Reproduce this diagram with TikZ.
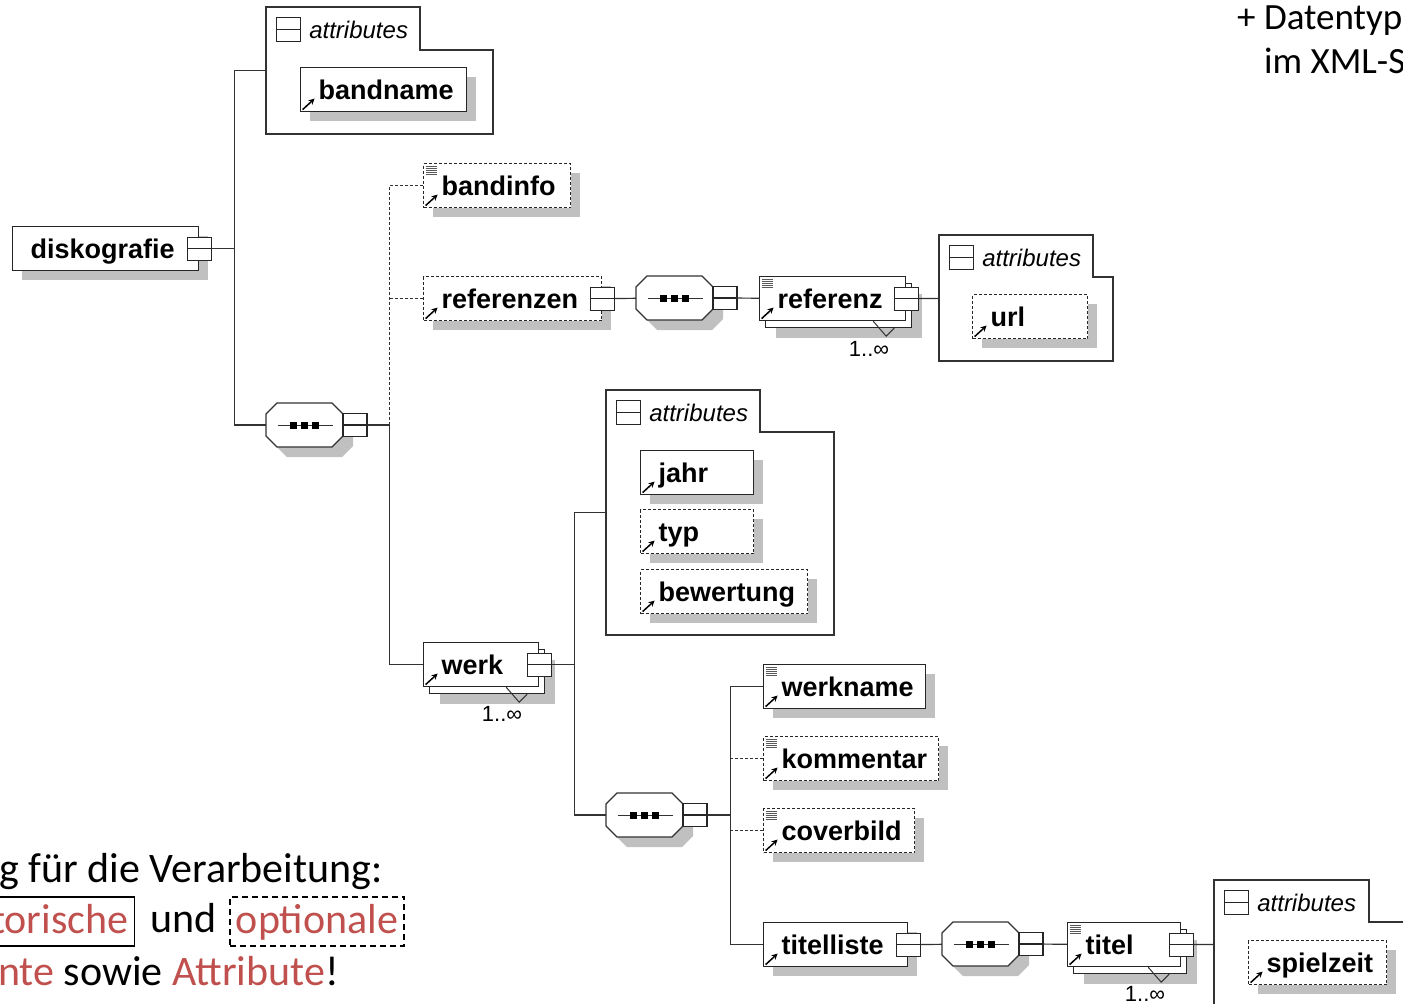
\documentclass[tikz,border=0pt]{standalone}
\usepackage{fontspec}
\setmainfont{Liberation Sans}
\newfontfamily\calibri{Carlito}
\usetikzlibrary{positioning, shadows, arrows.meta}

\definecolor{notered}{RGB}{192,80,77}
\definecolor{shadegray}{RGB}{192,192,192}
\definecolor{linegray}{RGB}{50,50,50}

\newcommand{\elemfont}{\fontsize{27}{32}\selectfont\bfseries}
\newcommand{\attrfont}{\fontsize{24}{28}\selectfont\itshape}
\newcommand{\cardfont}{\fontsize{22}{26}\selectfont}
\newcommand{\notefont}{\calibri\fontsize{42}{52}\selectfont}
\newcommand{\headfont}{\calibri\fontsize{37}{46}\selectfont}

% small icons inside the element boxes
\newcommand{\refarrow}{\draw[solid, black, line width=1.5pt, -{Stealth[length=6pt, width=6pt]}]
  ([shift={(2pt,2pt)}]path picture bounding box.south west) -- ++(12pt,11pt);}
\newcommand{\docicon}{\foreach \dy in {3pt,5pt,7pt,9pt,11pt}
  \draw[solid, black!65, line width=1pt] ([shift={(2pt,-\dy)}]path picture bounding box.north west) -- ++(11pt,0pt);}

\tikzset{
  outline/.style={draw=linegray, line width=1.2pt},
  conn/.style={draw=linegray, line width=1.2pt},
  optconn/.style={conn, dash pattern=on 3pt off 2pt},
  opt/.style={dash pattern=on 3pt off 2pt},
  elem/.style={draw=black!85, line width=1.2pt, fill=white, anchor=north west,
    minimum height=44pt, text width=#1pt, inner xsep=18pt, inner ysep=0pt,
    text height=20pt, text depth=0pt, align=left, font=\elemfont,
    path picture={\refarrow}},
  docelem/.style={elem=#1, path picture={\docicon\refarrow}},
  rootelem/.style={elem=#1, path picture={}},
  elemshadow/.style={drop shadow={shadow xshift=9pt, shadow yshift=-9pt, opacity=1, fill=shadegray}},
  multishadow/.style={drop shadow={shadow xshift=16pt, shadow yshift=-17pt, opacity=1, fill=shadegray},
    copy shadow={shadow xshift=6pt, shadow yshift=-7pt, opacity=1, fill=white, draw=black!85}},
  xbox/.style={draw=black!85, line width=1.1pt, fill=white, minimum width=24pt, minimum height=23pt, inner sep=0pt,
    path picture={\draw[solid, black!85, line width=1.1pt] (path picture bounding box.west) -- (path picture bounding box.east);}},
  minusbox/.style={xbox, minimum height=24pt, anchor=north west},
  attrgroup/.style={anchor=north west, inner sep=0pt, outer sep=0pt},
  attrtext/.style={font=\attrfont, inner sep=0pt},
  card/.style={font=\cardfont, inner sep=0pt},
  note/.style={font=\notefont, inner sep=0pt},
  notebox/.style={draw, line width=1.5pt, inner xsep=6pt, inner ysep=5.5pt, text height=31pt, text depth=7pt},
  pics/seqbox/.style={code={
    \fill[shadegray, shift={(10,10)}] (-27.5,-22) -- (27.5,-22) -- (38.5,-11) -- (38.5,11)
      -- (27.5,22) -- (-27.5,22) -- (-38.5,11) -- (-38.5,-11) -- cycle;
    \draw[outline, fill=white] (-27.5,-22) -- (27.5,-22) -- (38.5,-11) -- (38.5,11)
      -- (27.5,22) -- (-27.5,22) -- (-38.5,11) -- (-38.5,-11) -- cycle;
    \draw[outline, line width=1pt] (-27,0) -- (28,0);
    \foreach \dx in {-11,0,11} \fill (\dx-3.5,-3.5) rectangle ++(7,7);
    \node[inner sep=0pt, minimum width=77pt, minimum height=44pt] (-box) at (0,0) {};
    \node[xbox] (-x) at (50.5,0) {};
  }}
}

\begin{document}
\begin{tikzpicture}[x=1pt, y=-1pt]
  \useasboundingbox (0,0) rectangle (1403,1004);
  \clip (0,0) rectangle (1403,1004);

  % root element
  \node[rootelem=150, elemshadow] (disko) at (12,226) {diskografie};
  \node[xbox] (disko-x) at (disko.east) {};
  \coordinate[right=23pt of disko-x] (jA);

  \node[attrgroup, minimum width=227pt, minimum height=127pt] (attrA) at (266,7) {};
  \draw[outline] (attrA.south west) |- ([xshift=154pt]attrA.north west) |- ([yshift=-43pt]attrA.north east) -- (attrA.south east) -- cycle;
  \node[minusbox] (attrA-m) at ([shift={(10pt,-10pt)}]attrA.north west) {};
  \node[attrtext, right=8pt of attrA-m] (attrA-t) {attributes};
  \node[elem=130, elemshadow] (bandname) at (300,67) {bandname};

  % main sequence
  \pic (seqB) at (304.5,425) {seqbox};
  \coordinate[right=22pt of seqB-x] (jB);
  \node[docelem=111, elemshadow, opt] (bandinfo) at (423,163) {bandinfo};
  \node[elem=142, elemshadow, opt] (referenzen) at (423,276) {referenzen};
  \node[xbox] (referenzen-x) at (referenzen.east) {};
  \node[elem=79, multishadow] (werk) at (423,642) {werk};
  \node[xbox] (werk-x) at (werk.east) {};
  \draw[outline, line width=1pt] ([xshift=-33pt]werk.south east) -- ++(13,15) -- ++(8,-8);
  \node[card] (werk-n) at (502,714) {1..∞};

  % referenzen
  \pic (seqA) at (674.5,298) {seqbox};
  \node[docelem=110, multishadow] (referenz) at (759,276) {referenz};
  \node[xbox] (referenz-x) at (referenz.east) {};
  \draw[outline, line width=1pt] ([xshift=-33pt]referenz.south east) -- ++(13,15) -- ++(8,-8);
  \node[card] (referenz-n) at (869,349) {1..∞};
  \node[attrgroup, minimum width=174pt, minimum height=126pt] (attrB) at (939,235) {};
  \draw[outline] (attrB.south west) |- ([xshift=154pt]attrB.north west) |- ([yshift=-42pt]attrB.north east) -- (attrB.south east) -- cycle;
  \node[minusbox] (attrB-m) at ([shift={(10pt,-10pt)}]attrB.north west) {};
  \node[attrtext, right=8pt of attrB-m] (attrB-t) {attributes};
  \node[elem=79, elemshadow, opt] (url) at (972,294) {url};

  % werk
  \coordinate[right=23pt of werk-x] (jC);
  \node[attrgroup, minimum width=228pt, minimum height=245pt] (attrC) at (606,390) {};
  \draw[outline] (attrC.south west) |- ([xshift=154pt]attrC.north west) |- ([yshift=-42pt]attrC.north east) -- (attrC.south east) -- cycle;
  \node[minusbox] (attrC-m) at ([shift={(10pt,-10pt)}]attrC.north west) {};
  \node[attrtext, right=8pt of attrC-m] (attrC-t) {attributes};
  \node[elem=77, elemshadow] (jahr) at (640,450) {jahr};
  \node[elem=77, elemshadow, opt] (typ) at (640,509) {typ};
  \node[elem=131, elemshadow, opt] (bewertung) at (640,569) {bewertung};

  \pic (seqC) at (644.5,815) {seqbox};
  \coordinate[right=23pt of seqC-x] (jD);
  \node[docelem=126, elemshadow] (werkname) at (763,664) {werkname};
  \node[docelem=139, elemshadow, opt] (kommentar) at (763,736) {kommentar};
  \node[docelem=115, elemshadow, opt] (coverbild) at (763,808) {coverbild};
  \node[elem=108, elemshadow] (titelliste) at (763,922) {titelliste};
  \node[xbox] (titelliste-x) at (titelliste.east) {};

  % titelliste
  \pic (seqD) at (980.5,944) {seqbox};
  \node[docelem=77, multishadow] (titel) at (1067,922) {titel};
  \node[xbox] (titel-x) at (titel.east) {};
  \draw[outline, line width=1pt] ([xshift=-33pt]titel.south east) -- ++(13,15) -- ++(8,-8);
  \node[card] (titel-n) at (1145,994) {1..∞};
  \node[attrgroup, minimum width=250pt, minimum height=128pt] (attrD) at (1214,880) {};
  \draw[outline] (attrD.south west) |- ([xshift=155pt]attrD.north west) |- ([yshift=-42pt]attrD.north east) -- (attrD.south east) -- cycle;
  \node[minusbox] (attrD-m) at ([shift={(10pt,-10pt)}]attrD.north west) {};
  \node[attrtext, right=8pt of attrD-m] (attrD-t) {attributes};
  \node[elem=102, elemshadow, opt] (spielzeit) at (1248,940) {spielzeit};

  % connectors
  \draw[conn] (disko-x) -- (jA);
  \draw[conn] (jA) |- (attrA.west);
  \draw[conn] (jA) |- (seqB-box.west);
  \draw[conn] (seqB-x) -- (jB) |- (werk.west);
  \draw[optconn] (bandinfo.west) -| (jB);
  \draw[optconn] (referenzen.west) -- (referenzen.west -| jB);
  \draw[conn] (referenzen-x) -- (seqA-box);
  \draw[conn] (seqA-x) -- (referenz);
  \draw[conn] (referenz-x) -- (attrB);
  \draw[conn] (werk-x) -- (jC);
  \draw[conn] (jC) |- (attrC.west);
  \draw[conn] (jC) |- (seqC-box.west);
  \draw[conn] (seqC-x) -- (jD);
  \draw[conn] (werkname.west) -| (jD) |- (titelliste.west);
  \draw[optconn] (kommentar.west) -- (kommentar.west -| jD);
  \draw[optconn] (coverbild.west) -- (coverbild.west -| jD);
  \draw[conn] (titelliste-x) -- (seqD-box);
  \draw[conn] (seqD-x) -- (titel);
  \draw[conn] (titel-x) -- (attrD);

  % slide text
  \node[font=\headfont, anchor=base west, inner sep=0pt] (headA) at (1237,29) {+ Datentyp};
  \node[font=\headfont, anchor=base west, inner sep=0pt] (headB) at (1264,73) {im XML-S};
  \node[note, anchor=base west] (noteA) at (-1,882) {g für die Verarbeitung:};
  \node[note, notebox, anchor=north east] (noteB) at (135,896) {\textcolor{notered}{torische}};
  \node[note, anchor=base west] (noteC) at (150,932.5) {und};
  \node[note, notebox, dash pattern=on 6pt off 4pt, line width=1.8pt, anchor=north west] (noteD) at (229,896) {\textcolor{notered}{optionale}};
  \node[note, anchor=base west] (noteE) at (-2,985) {\textcolor{notered}{nte} sowie \textcolor{notered}{Attribute}!};
\end{tikzpicture}
\end{document}
